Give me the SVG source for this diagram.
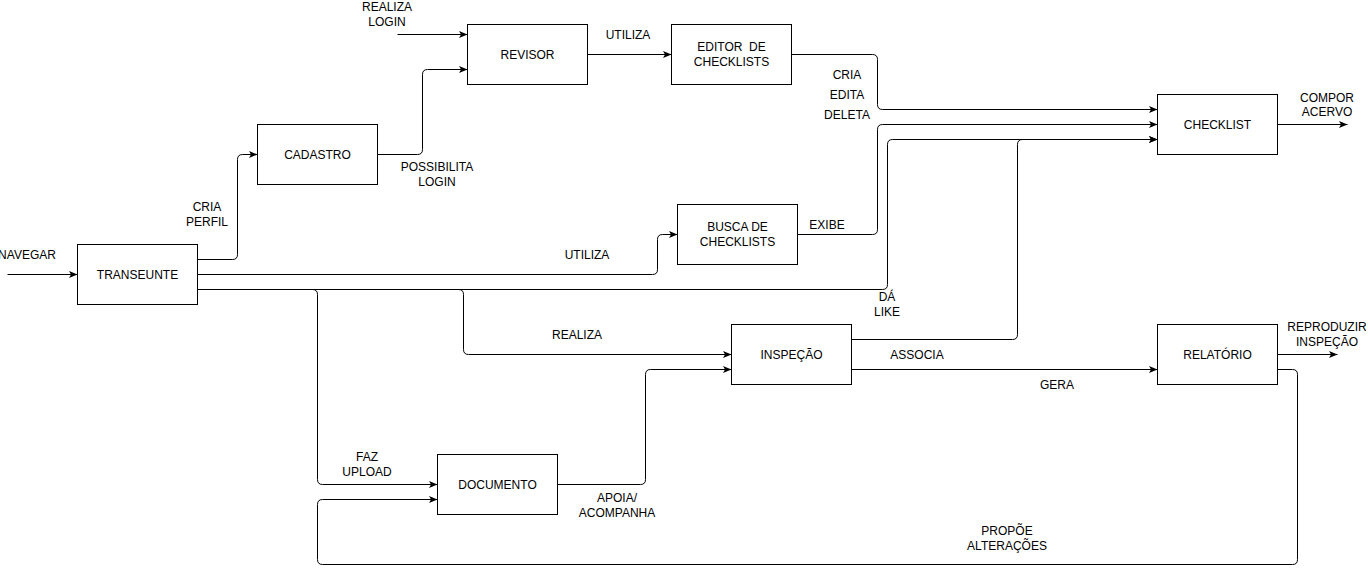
<svg xmlns="http://www.w3.org/2000/svg" width="1368" height="573" viewBox="0 0 1368 573">
<style>
.box{fill:#fff;stroke:#000;stroke-width:1}
.t{font-family:"Liberation Sans",Arial,Helvetica,sans-serif;font-size:12px;fill:#000;text-anchor:middle}
.e{fill:none;stroke:#000;stroke-width:1;marker-end:url(#arr)}
</style>
<defs>
<marker id="arr" viewBox="0 0 10 8" refX="9.5" refY="4" markerWidth="10" markerHeight="8" orient="auto" markerUnits="userSpaceOnUse">
<path d="M1,0.5 L9.5,4 L1,7.5 L3,4 Z" fill="#000"/>
</marker>
</defs>
<rect width="1368" height="573" fill="#fff"/>
<g id="connectors">
<path class="e" d="M7.5,274.5 H77.5"/>
<path class="e" d="M197.5,259.5 H232.5 Q237.5,259.5 237.5,254.5 V159.5 Q237.5,154.5 242.5,154.5 H257.5"/>
<path class="e" d="M377.5,154.5 H417.5 Q422.5,154.5 422.5,149.5 V74.5 Q422.5,69.5 427.5,69.5 H467.5"/>
<path class="e" d="M397.5,34.5 H467.5"/>
<path class="e" d="M587.5,54.5 H671.5"/>
<path class="e" d="M791.5,54.5 H872.5 Q877.5,54.5 877.5,59.5 V104.5 Q877.5,109.5 882.5,109.5 H1157.5"/>
<path class="e" d="M797.5,234.5 H872.5 Q877.5,234.5 877.5,229.5 V129.5 Q877.5,124.5 882.5,124.5 H1157.5"/>
<path class="e" d="M197.5,274.5 H652.5 Q657.5,274.5 657.5,269.5 V239.5 Q657.5,234.5 662.5,234.5 H677.5"/>
<path class="e" d="M197.5,289.5 H882.5 Q887.5,289.5 887.5,284.5 V144.5 Q887.5,139.5 892.5,139.5 H1157.5"/>
<path class="e" d="M197.5,289.5 H458.5 Q463.5,289.5 463.5,294.5 V349.5 Q463.5,354.5 468.5,354.5 H731.5"/>
<path class="e" d="M197.5,289.5 H312.5 Q317.5,289.5 317.5,294.5 V479.5 Q317.5,484.5 322.5,484.5 H437.5"/>
<path class="e" d="M557.5,484.5 H640.5 Q645.5,484.5 645.5,479.5 V374.5 Q645.5,369.5 650.5,369.5 H731.5"/>
<path class="e" d="M851.5,339.5 H1012.5 Q1017.5,339.5 1017.5,334.5 V144.5 Q1017.5,139.5 1022.5,139.5 H1157.5"/>
<path class="e" d="M851.5,369.5 H1157.5"/>
<path class="e" d="M1277.5,354.5 H1337.5"/>
<path class="e" d="M1277.5,124.5 H1347.5"/>
<path class="e" d="M1277.5,369.5 H1292.5 Q1297.5,369.5 1297.5,374.5 V559.5 Q1297.5,564.5 1292.5,564.5 H322.5 Q317.5,564.5 317.5,559.5 V504.5 Q317.5,499.5 322.5,499.5 H437.5"/>
</g>
<g id="edge-labels">
<text class="t" x="27" y="258.5">NAVEGAR</text>
<text class="t" x="207" y="211">CRIA</text>
<text class="t" x="207" y="226">PERFIL</text>
<text class="t" x="437" y="171">POSSIBILITA</text>
<text class="t" x="437" y="186">LOGIN</text>
<text class="t" x="387" y="11">REALIZA</text>
<text class="t" x="387" y="26">LOGIN</text>
<text class="t" x="628" y="38.5">UTILIZA</text>
<text class="t" x="847" y="79">CRIA</text>
<text class="t" x="847" y="99">EDITA</text>
<text class="t" x="847" y="119">DELETA</text>
<text class="t" x="827" y="229">EXIBE</text>
<text class="t" x="587" y="258.5">UTILIZA</text>
<text class="t" x="887" y="300.5">DÁ</text>
<text class="t" x="887" y="315.5">LIKE</text>
<text class="t" x="577" y="339">REALIZA</text>
<text class="t" x="367" y="461">FAZ</text>
<text class="t" x="367" y="476">UPLOAD</text>
<text class="t" x="617" y="501.5">APOIA/</text>
<text class="t" x="617" y="516.5">ACOMPANHA</text>
<text class="t" x="917" y="358.5">ASSOCIA</text>
<text class="t" x="1057" y="389">GERA</text>
<text class="t" x="1327" y="101.5">COMPOR</text>
<text class="t" x="1327" y="116">ACERVO</text>
<text class="t" x="1327" y="331">REPRODUZIR</text>
<text class="t" x="1327" y="346">INSPEÇÃO</text>
<text class="t" x="1007" y="535">PROPÕE</text>
<text class="t" x="1007" y="550">ALTERAÇÕES</text>
</g>
<g id="transeunte"><rect class="box" x="77.5" y="244.5" width="120" height="60"/><text class="t" x="137.5" y="278.8">TRANSEUNTE</text></g>
<g id="cadastro"><rect class="box" x="257.5" y="124.5" width="120" height="60"/><text class="t" x="317.5" y="158.8">CADASTRO</text></g>
<g id="revisor"><rect class="box" x="467.5" y="24.5" width="120" height="60"/><text class="t" x="527.5" y="58.8">REVISOR</text></g>
<g id="editor"><rect class="box" x="671.5" y="24.5" width="120" height="60"/><text class="t" x="731.5" y="51" xml:space="preserve">EDITOR  DE</text><text class="t" x="731.5" y="66">CHECKLISTS</text></g>
<g id="busca"><rect class="box" x="677.5" y="204.5" width="120" height="60"/><text class="t" x="737.5" y="231">BUSCA DE</text><text class="t" x="737.5" y="246">CHECKLISTS</text></g>
<g id="checklist"><rect class="box" x="1157.5" y="94.5" width="120" height="60"/><text class="t" x="1217.5" y="128.8">CHECKLIST</text></g>
<g id="inspecao"><rect class="box" x="731.5" y="324.5" width="120" height="60"/><text class="t" x="791.5" y="358.8">INSPEÇÃO</text></g>
<g id="relatorio"><rect class="box" x="1157.5" y="324.5" width="120" height="60"/><text class="t" x="1217.5" y="358.8">RELATÓRIO</text></g>
<g id="documento"><rect class="box" x="437.5" y="454.5" width="120" height="60"/><text class="t" x="497.5" y="488.8">DOCUMENTO</text></g>
</svg>
